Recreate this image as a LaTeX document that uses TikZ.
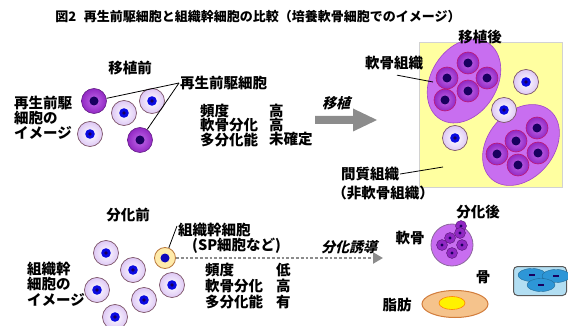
\documentclass[tikz,border=0pt]{standalone}
\usepackage{fontspec}
\setmainfont{Noto Sans CJK JP}
\newfontfamily\jpslant[FakeSlant=0.25]{Noto Sans CJK JP}
\usepackage{tikz}
\usetikzlibrary{shapes,arrows.meta,positioning,calc,shapes.geometric}
\definecolor{cellpurple}{RGB}{145, 40, 195}
\definecolor{cellpink}{RGB}{195, 105, 235}
\definecolor{nucnavy}{RGB}{25, 0, 95}
\definecolor{nucblue}{RGB}{10, 10, 225}
\definecolor{lavender}{RGB}{222, 200, 245}
\definecolor{cellrim}{RGB}{125, 85, 105}
\definecolor{tissuefill}{RGB}{200, 110, 240}
\definecolor{tissuerim}{RGB}{160, 70, 200}
\definecolor{matrixyellow}{RGB}{255, 255, 160}
\definecolor{arrowgray}{RGB}{140, 140, 140}
\definecolor{bonefill}{RGB}{178, 222, 242}
\definecolor{bonecell}{RGB}{45, 150, 215}
\definecolor{fatfill}{RGB}{245, 195, 140}
\definecolor{fatrim}{RGB}{210, 125, 60}
\definecolor{spfill}{RGB}{255, 235, 170}
\definecolor{sprim}{RGB}{185, 120, 60}

\begin{document}
\begin{tikzpicture}[
        x=1pt, y=-1pt,
        lbl/.style={inner sep=1pt, font=\fontsize{14.5}{16}\selectfont\bfseries},
        lblL/.style={lbl, anchor=west},
        lightcell/.style={circle, draw=cellrim, line width=0.7pt, minimum size=25pt, inner sep=0pt, inner color=white, outer color=lavender,
            path picture={\fill[nucblue] (path picture bounding box.center) circle (4.8pt);
                          \fill[nucnavy] (path picture bounding box.center) circle (1.8pt);}},
        darkcell/.style={circle, draw=cellpurple!70!black, line width=0.6pt, minimum size=25pt, inner sep=0pt, inner color=cellpink, outer color=cellpurple,
            path picture={\fill[nucnavy] (path picture bounding box.center) circle (4.5pt);}},
        tissuecell/.style={darkcell, draw=red!40!cellpurple, minimum size=22pt},
        tissue/.style={ellipse, fill=tissuefill, draw=tissuerim, line width=0.6pt, minimum width=90pt, minimum height=66pt},
        stemcell/.style={circle, draw=sprim, line width=0.8pt, minimum size=21pt, inner sep=0pt, fill=spfill,
            path picture={\fill[nucblue!70!nucnavy] (path picture bounding box.center) circle (4.5pt);}},
        minicell/.style={circle, fill=cellpurple, draw=cellpurple!60!black, line width=0.4pt, minimum size=11pt, inner sep=0pt,
            path picture={\fill[nucnavy] (path picture bounding box.center) circle (1.6pt);}},
        bonecellst/.style={ellipse, fill=bonecell, draw=bonecell!70!black, line width=0.4pt, minimum width=28pt, minimum height=13pt, inner sep=0pt,
            path picture={\draw[nucnavy, line width=1.4pt] ([xshift=-3pt]path picture bounding box.center) -- ([xshift=3pt]path picture bounding box.center);}},
        leader/.style={draw=black, line width=0.8pt}
    ]
        \useasboundingbox (0,0) rectangle (568,326);

        % Title
        \node[lbl, font=\fontsize{13}{15}\selectfont\bfseries] (title) at (258,17) {図2\hspace{0.6em}再生前駆細胞と組織幹細胞の比較（培養軟骨細胞でのイメージ）};

        % ---- Upper half: before transplantation
        \node[lbl] (beforeTx) at (130,68) {移植前};
        \node[darkcell] (pc1) at (94,101) {};
        \node[lightcell] (lc1) at (124,113) {};
        \node[lightcell] (lc2) at (152,101) {};
        \node[lightcell] (lc3) at (90,134) {};
        \node[darkcell] (pc2) at (140,140) {};

        \node[lblL, align=left, font=\fontsize{14.5}{15}\selectfont\bfseries] (progImg) at (13,118) {再生前駆\\細胞の\\イメージ};
        \node[lblL] (progLbl) at (179,83) {再生前駆細胞};
        \draw[leader] (progLbl.west) -- (pc1);
        \draw[leader] (progLbl.west) -- (pc2);

        \node[lblL] (freqA) at (199,111) {頻度};
        \node[lblL] (freqAv) at (268,111) {高};
        \node[lblL] (cartA) at (199,125) {軟骨分化};
        \node[lblL] (cartAv) at (268,125) {高};
        \node[lblL] (multiA) at (199,139.5) {多分化能};
        \node[lblL] (multiAv) at (268,139.5) {未確定};

        % transplant arrow
        \fill[arrowgray] (315,116) -- (353,116) -- (353,108.5) -- (377,120) -- (353,131.5) -- (353,124) -- (315,124) -- cycle;
        \node[lbl, font=\fontsize{14}{16}\jpslant\bfseries] (txLbl) at (336,103) {移植};

        % ---- after transplantation
        \node[rectangle, fill=matrixyellow, draw=gray!35, minimum width=143pt, minimum height=145pt] (matrix) at (490.5,114.5) {};

        \node[tissue, rotate=58] (tisA) at (464,81) {};
        \node[tissue, rotate=50] (tisB) at (521,145) {};
        \foreach \p/\q [count=\i] in {468/63, 447/78, 487/78, 468/91, 445/100}
            \node[tissuecell] (ta\i) at (\p,\q) {};
        \foreach \p/\q [count=\i] in {537/128, 516/141, 497/154, 538/153, 518/165}
            \node[tissuecell] (tb\i) at (\p,\q) {};

        \node[lightcell] (mc1) at (526,82) {};
        \node[lightcell] (mc2) at (504,110) {};
        \node[lightcell] (mc3) at (455,138) {};
        \node[lbl] (afterTx) at (480,37) {移植後};

        \node[lbl] (tisLbl) at (394,63) {軟骨組織};
        \coordinate (tisPt) at (433,82);
        \draw[leader] ($(tisLbl.south)+(3,4)$) -- (tisPt);

        \node[lbl] (stromaLbl) at (370,174) {間質組織};
        \node[lbl] (stromaSub) at (383,193) {（非軟骨組織）};
        \coordinate (stromaPt) at (443,167);
        \draw[leader] (stromaLbl.east) -- (stromaPt);

        % ---- Lower half: before differentiation
        \node[lbl] (beforeDf) at (128,215) {分化前};
        \foreach \p/\q [count=\i] in {106/253, 133/270, 97/290, 172/285, 144/300, 115/317}
            \node[lightcell] (sc\i) at (\p,\q) {};
        \node[stemcell] (sp) at (165,258) {};

        \node[lblL, align=left, font=\fontsize{14.5}{15.5}\selectfont\bfseries] (stemImg) at (26,284) {組織幹\\細胞の\\イメージ};
        \node[lblL] (stemLbl) at (177,230) {組織幹細胞};
        \node[lblL] (stemSub) at (191,246) {(SP細胞など)};
        \draw[leader] ($(stemLbl.west)+(0,-4)$) -- (sp);

        \node[lblL] (freqB) at (204,270) {頻度};
        \node[lblL] (freqBv) at (275,270) {低};
        \node[lblL] (cartB) at (204,286) {軟骨分化};
        \node[lblL] (cartBv) at (275,286) {高};
        \node[lblL] (multiB) at (204,302) {多分化能};
        \node[lblL] (multiBv) at (275,302) {有};

        % induction arrow
        \coordinate (dfEnd) at (383,258);
        \draw[arrowgray, line width=2.8pt, dash pattern=on 2.8pt off 2pt, -{Triangle[length=10pt,width=11pt]}] (sp.east) -- (dfEnd);
        \node[lbl, font=\fontsize{14}{16}\jpslant\bfseries] (dfLbl) at (349,247) {分化誘導};

        % ---- after differentiation
        \node[lbl] (afterDf) at (478,212) {分化後};

        \node[lbl] (cartLbl) at (410,238) {軟骨};
        \node[circle, fill=tissuefill, draw=gray!60!tissuerim, line width=0.8pt, minimum size=42pt] (cartBall) at (452,245) {};
        \foreach \p/\q [count=\i] in {461/226, 460/233, 450/238, 442/245, 462/245, 452/253}
            \node[minicell] (mn\i) at (\p,\q) {};

        \node[lbl] (boneLbl) at (483,277) {骨};
        \node[rectangle, rounded corners=4pt, fill=bonefill, draw=gray!70!black, line width=1pt, minimum width=53pt, minimum height=29pt] (boneBox) at (540,281) {};
        \node[bonecellst] (bc1) at (532,275) {};
        \node[bonecellst] (bc2) at (556,276) {};
        \node[bonecellst] (bc3) at (541,285) {};

        \node[lbl] (fatLbl) at (397,305) {脂肪};
        \node[ellipse, fill=fatfill, draw=fatrim, line width=1pt, minimum width=66pt, minimum height=27pt] (fatCell) at (455,304) {};
        \node[ellipse, fill=yellow, draw=orange, line width=0.6pt, minimum width=26pt, minimum height=13pt] (fatDrop) at (452,303) {};
    \end{tikzpicture}
\end{document}
